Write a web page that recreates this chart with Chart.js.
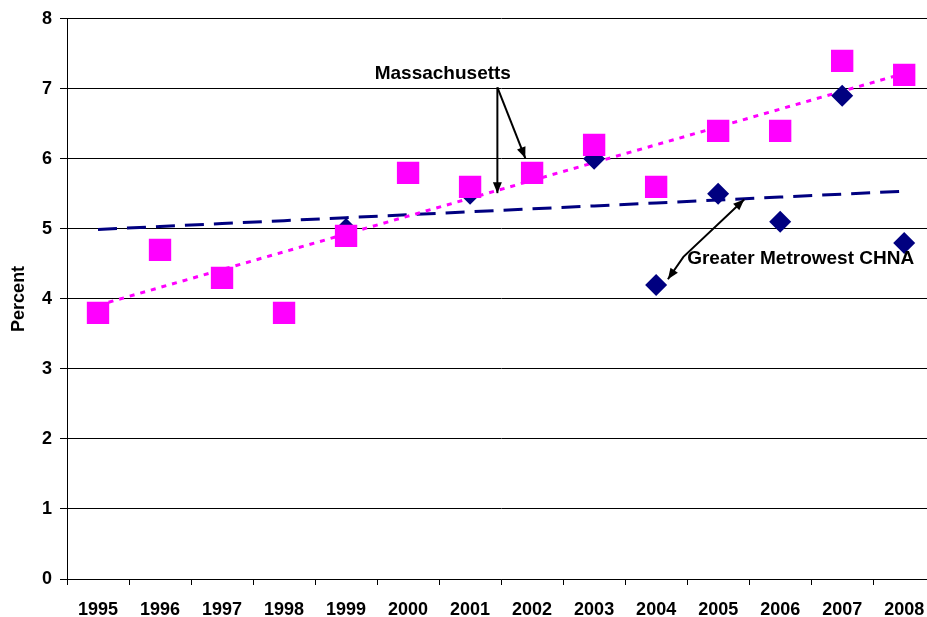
<!DOCTYPE html>
<html>
<head>
<meta charset="utf-8">
<script src="https://cdn.jsdelivr.net/npm/chart.js@4"></script>
<style>
  html, body { margin: 0; padding: 0; overflow: hidden; background: #fff; }
  #myChart { display: block; }
</style>
</head>
<body>
<canvas id="myChart" width="951" height="617"></canvas>
<script>
// data
const years = ['1995','1996','1997','1998','1999','2000','2001',
  '2002','2003','2004','2005','2006','2007','2008'];
const massachusetts = [3.8, 4.7, 4.3, 3.8, 4.9, 5.8, 5.6, 5.8, 6.2, 5.6, 6.4, 6.4, 7.4, 7.2];
const metrowest = [null, null, null, null, 5.0, null, 5.5, null, 6.0, 4.2, 5.5, 5.1, 6.9, 4.8];

// callout texts, placed in data space (category index, percent)
const callouts = [
  { text: 'Massachusetts', x: 5.56, y: 7.22, align: 'center' },
  { text: 'Greater Metrowest CHNA', x: 9.5, y: 4.58, align: 'left' },
];
// arrows: list of points, heads at start and/or end
const arrows = [
  { pts: [[6.44, 7.02], [6.44, 5.51]], head: 'end' },
  { pts: [[6.44, 7.02], [6.89, 6.01]], head: 'end' },
  { pts: [[10.42, 5.42], [9.44, 4.60], [9.19, 4.28]], head: 'both' },
];

// least squares trendline (like Excel's linear trendline)
function trend(values) {
  let n = 0, sx = 0, sy = 0, sxy = 0, sxx = 0;
  values.forEach((v, i) => {
    if (v === null) return;
    n++; sx += i; sy += v; sxy += i * v; sxx += i * i;
  });
  const b = (n * sxy - sx * sy) / (n * sxx - sx * sx);
  const a = (sy - b * sx) / n;
  return values.map((v, i) => a + b * i);
}

const FONT = '"Liberation Sans", Arial, sans-serif';
Chart.defaults.font.family = FONT;
Chart.defaults.color = '#000';

const calloutPlugin = {
  id: 'callouts',
  afterDatasetsDraw(chart) {
    const c = chart.ctx, xs = chart.scales.x, ys = chart.scales.y;
    const P = (p) => [xs.getPixelForValue(p[0]), ys.getPixelForValue(p[1])];
    c.save();
    c.strokeStyle = '#000';
    c.fillStyle = '#000';
    c.lineWidth = 2;
    const head = (from, to) => {
      const ang = Math.atan2(to[1] - from[1], to[0] - from[0]);
      const len = 11, w = 4.5;
      c.beginPath();
      c.moveTo(to[0], to[1]);
      c.lineTo(to[0] - len * Math.cos(ang) + w * Math.sin(ang), to[1] - len * Math.sin(ang) - w * Math.cos(ang));
      c.lineTo(to[0] - len * Math.cos(ang) - w * Math.sin(ang), to[1] - len * Math.sin(ang) + w * Math.cos(ang));
      c.closePath();
      c.fill();
    };
    arrows.forEach(a => {
      const pts = a.pts.map(P);
      c.beginPath();
      c.moveTo(pts[0][0], pts[0][1]);
      for (let i = 1; i < pts.length; i++) c.lineTo(pts[i][0], pts[i][1]);
      c.stroke();
      const n = pts.length;
      if (a.head === 'end' || a.head === 'both') head(pts[n - 2], pts[n - 1]);
      if (a.head === 'both') head(pts[1], pts[0]);
    });
    c.font = 'bold 19px ' + FONT;
    c.textBaseline = 'middle';
    callouts.forEach(t => {
      const p = P([t.x, t.y]);
      c.textAlign = t.align;
      c.fillText(t.text, p[0], p[1]);
    });
    c.restore();
  }
};

new Chart(document.getElementById('myChart'), {
  type: 'line',
  data: {
    labels: years,
    datasets: [
      {
        label: 'Massachusetts',
        data: massachusetts,
        showLine: false,
        pointStyle: 'rect',
        pointRadius: 15.8,
        pointHoverRadius: 15.8,
        pointBorderWidth: 0,
        backgroundColor: '#FF00FF',
        borderColor: '#FF00FF',
      },
      {
        label: 'Greater Metrowest CHNA',
        data: metrowest,
        showLine: false,
        pointStyle: 'rectRot',
        pointRadius: 11,
        pointHoverRadius: 11,
        pointBorderWidth: 0,
        backgroundColor: '#000080',
        borderColor: '#000080',
      },
      {
        label: 'Massachusetts trend',
        data: trend(massachusetts),
        pointRadius: 0,
        borderColor: '#FF00FF',
        borderWidth: 3,
        borderDash: [5, 6],
        tension: 0,
        fill: false,
      },
      {
        label: 'Metrowest trend',
        data: trend(metrowest),
        pointRadius: 0,
        borderColor: '#000080',
        borderWidth: 3,
        borderDash: [19, 10],
        tension: 0,
        fill: false,
      },
    ],
  },
  options: {
    responsive: false,
    animation: false,
    layout: { padding: { left: 0, top: 17, right: 5, bottom: 0 } },
    plugins: {
      legend: { display: false },
      tooltip: { enabled: false },
    },
    scales: {
      x: {
        offset: true,
        grid: {
          offset: true,
          drawOnChartArea: false,
          drawTicks: true,
          tickLength: 6,
          color: '#000',
        },
        border: { color: '#000', width: 1 },
        ticks: {
          padding: 14,
          maxRotation: 0,
          autoSkip: false,
          font: { size: 18, weight: 'bold' },
        },
        afterFit(scale) { scale.height = 38; },
      },
      y: {
        min: 0,
        max: 8,
        ticks: {
          stepSize: 1,
          padding: 8,
          font: { size: 18, weight: 'bold' },
        },
        grid: { color: '#000', lineWidth: 1, tickLength: 7 },
        border: { color: '#000', width: 1 },
        title: {
          display: true,
          text: 'Percent',
          padding: { top: 8, bottom: 0 },
          font: { size: 18, weight: 'bold' },
        },
        afterFit(scale) { scale.width = 67; },
      },
    },
  },
  plugins: [calloutPlugin],
});
</script>
</body>
</html>
